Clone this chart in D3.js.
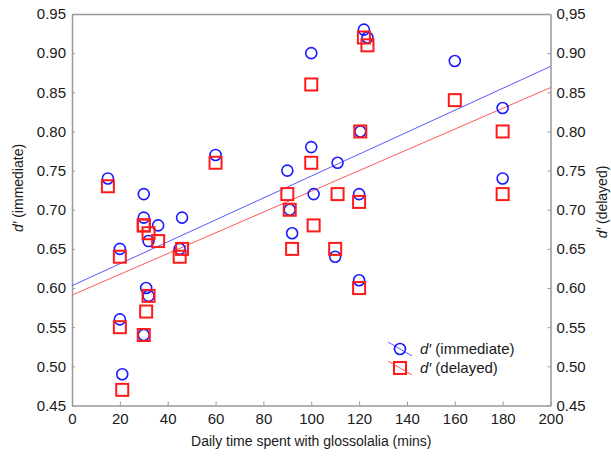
<!DOCTYPE html>
<html><head><meta charset="utf-8">
<script src="https://cdn.jsdelivr.net/npm/d3@7"></script>
<style>
body{margin:0;background:#fff;}
text{font-family:"Liberation Sans",Arial,sans-serif;fill:#1a1a1a;}
</style></head><body>
<svg id="c" width="611" height="458"></svg>
<script>
const minutes   = [15, 20, 20, 21, 30, 30, 30, 31, 32, 32, 36, 46, 45, 60, 90, 91, 92, 100, 100, 101, 111, 110, 120.5, 120, 120, 122, 123.5, 160, 180, 180];
const immediate = [0.74, 0.65, 0.56, 0.49, 0.72, 0.69, 0.54, 0.60, 0.66, 0.59, 0.68, 0.69, 0.65, 0.77, 0.75, 0.70, 0.67, 0.90, 0.78, 0.72, 0.76, 0.64, 0.80, 0.72, 0.61, 0.93, 0.92, 0.89, 0.83, 0.74];
const delayed   = [0.73, 0.64, 0.55, 0.47, 0.68, 0.68, 0.54, 0.57, 0.67, 0.59, 0.66, 0.65, 0.64, 0.76, 0.72, 0.70, 0.65, 0.86, 0.76, 0.68, 0.72, 0.65, 0.80, 0.71, 0.60, 0.92, 0.91, 0.84, 0.80, 0.72];
const fitX = [0, 200];
const fitImmediate = [0.603, 0.883];
const fitDelayed = [0.591, 0.856];
const xTicks = [0, 20, 40, 60, 80, 100, 120, 140, 160, 180, 200];
const yTicks = [0.45, 0.50, 0.55, 0.60, 0.65, 0.70, 0.75, 0.80, 0.85, 0.90, 0.95];
const leftTickLabels  = ["0.45","0.50","0.55","0.60","0.65","0.70","0.75","0.80","0.85","0.90","0.95"];
const rightTickLabels = ["0.45","0.50","0.55","0.60","0.65","0.70","0.75","0.80","0.85","0.90","0,95"];
const seriesNames = ["(immediate)", "(delayed)"];

const svg = d3.select("#c");
const L = 72, R = 550.5, T = 14, B = 405.5;
const x = d3.scaleLinear().domain([0, 200]).range([L, R]);
const y = d3.scaleLinear().domain([0.45, 0.95]).range([B, T]);
const frame = "#999";
const blue = "#1a1aff", red = "#ff1a1a";

// axes
const gB = svg.append("g").attr("transform", `translate(0,${B})`)
  .call(d3.axisBottom(x).tickValues(xTicks).tickSizeInner(-4).tickSizeOuter(0).tickPadding(8));
const gL = svg.append("g").attr("transform", `translate(${L},0)`)
  .call(d3.axisLeft(y).tickValues(yTicks).tickSizeInner(-3).tickSizeOuter(0).tickPadding(6)
    .tickFormat((d,i)=>leftTickLabels[i]));
const gR = svg.append("g").attr("transform", `translate(${R},0)`)
  .call(d3.axisRight(y).tickValues(yTicks).tickSizeInner(-3).tickSizeOuter(0).tickPadding(6)
    .tickFormat((d,i)=>rightTickLabels[i]));
const gT = svg.append("g").attr("transform", `translate(0,${T})`)
  .call(d3.axisTop(x).tickValues([]).tickSizeOuter(0));
[gB,gL,gR,gT].forEach(g=>{
  g.selectAll("path.domain").attr("stroke", frame).attr("stroke-width", 1.5);
  g.selectAll(".tick line").attr("stroke", frame);
  g.selectAll(".tick text").attr("font-size", 15).attr("fill", "#1a1a1a")
    .attr("font-family", "'Liberation Sans',Arial,sans-serif");
});

// fit lines
const line = d3.line().x(d=>x(d[0])).y(d=>y(d[1]));
svg.append("path").datum(fitX.map((v,i)=>[v, fitImmediate[i]]))
  .attr("d", line).attr("stroke", "#5a5aff").attr("stroke-width", 1).attr("fill", "none");
svg.append("path").datum(fitX.map((v,i)=>[v, fitDelayed[i]]))
  .attr("d", line).attr("stroke", "#ff5a5a").attr("stroke-width", 1).attr("fill", "none");

// points
const S = 12;
svg.append("g").selectAll("circle").data(minutes).join("circle")
  .attr("cx", d=>x(d)).attr("cy", (d,i)=>y(immediate[i])).attr("r", 5.5)
  .attr("fill", "none").attr("stroke", blue).attr("stroke-width", 1.6);
svg.append("g").selectAll("rect").data(minutes).join("rect")
  .attr("x", d=>x(d)-S/2).attr("y", (d,i)=>y(delayed[i])-S/2).attr("width", S).attr("height", S)
  .attr("fill", "none").attr("stroke", red).attr("stroke-width", 2);

// legend
const lg = svg.append("g");
lg.append("line").attr("x1", 388).attr("y1", 342).attr("x2", 412).attr("y2", 356).attr("stroke", "#5a5aff");
lg.append("circle").attr("cx", 400).attr("cy", 349).attr("r", 5.5).attr("fill", "none").attr("stroke", blue).attr("stroke-width", 1.6);
lg.append("line").attr("x1", 388).attr("y1", 361).attr("x2", 412).attr("y2", 375).attr("stroke", "#ff5a5a");
lg.append("rect").attr("x", 394).attr("y", 362).attr("width", S).attr("height", S).attr("fill", "none").attr("stroke", red).attr("stroke-width", 2);
[[seriesNames[0], 349],[seriesNames[1], 368]].forEach(([t, yy])=>{
  const tx = lg.append("text").attr("x", 420).attr("y", yy).attr("dy", "0.35em").attr("font-size", 15);
  tx.append("tspan").attr("font-style", "italic").text("d′");
  tx.append("tspan").text(" " + t);
});

// axis titles
svg.append("text").attr("x", (L+R)/2).attr("y", 441).attr("dy", "0.35em")
  .attr("text-anchor", "middle").attr("font-size", 14).text("Daily time spent with glossolalia (mins)");
const yl = svg.append("text").attr("transform", "translate(18,188) rotate(-90)")
  .attr("text-anchor", "middle").attr("dy", "0.35em").attr("font-size", 14);
yl.append("tspan").attr("font-style","italic").text("d′");
yl.append("tspan").text(" " + seriesNames[0]);
const yr = svg.append("text").attr("transform", "translate(602,202) rotate(-90)")
  .attr("text-anchor", "middle").attr("dy", "0.35em").attr("font-size", 14);
yr.append("tspan").attr("font-style","italic").text("d′");
yr.append("tspan").text(" " + seriesNames[1]);
</script></body></html>
